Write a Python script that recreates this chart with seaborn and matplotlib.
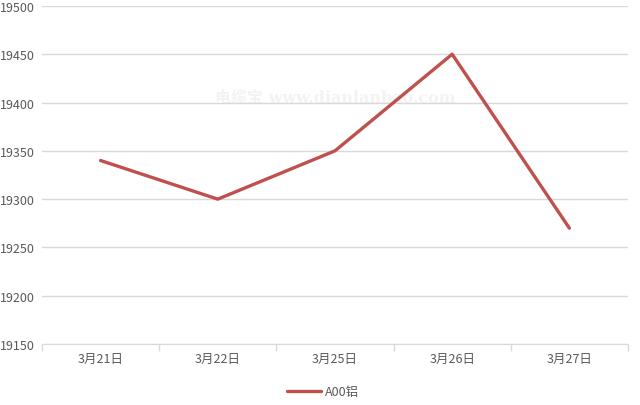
import pandas as pd
import seaborn as sns
import matplotlib.pyplot as plt
from matplotlib.ticker import FixedLocator

dates = ['3月21日', '3月22日', '3月25日', '3月26日', '3月27日']
prices = [19340, 19300, 19350, 19450, 19270]
series_name = 'A00铝'

df = pd.DataFrame({'date': dates, 'price': prices, 'series': series_name})

sns.set_style('white')
plt.rcParams['font.family'] = ['Noto Sans CJK SC', 'DejaVu Sans']

fig = plt.figure(figsize=(6.4, 4.06), dpi=100)
ax = fig.add_axes([0.0656, 0.150, 0.9156, 0.833])

x = list(range(len(dates)))
sns.lineplot(x=x, y=df['price'], color='#C0504D', linewidth=2.4, ax=ax,
             label=series_name, legend=False)

ax.set_xlim(-0.5, len(dates) - 0.5)
ax.set_ylim(19150, 19500)
ax.set_yticks(range(19150, 19501, 50))
ax.set_xticks(x)
ax.set_xticklabels(dates)
ax.xaxis.set_minor_locator(FixedLocator([i - 0.5 for i in range(len(dates) + 1)]))
ax.tick_params(axis='x', which='major', bottom=False, length=0, pad=6, labelsize=9, colors='#595959')
ax.tick_params(axis='x', which='minor', bottom=True, length=5, color='#d9d9d9', width=1)
ax.tick_params(axis='y', length=0, pad=5, labelsize=9, colors='#595959')
ax.grid(axis='y', color='#d9d9d9', linewidth=1)
ax.set_axisbelow(True)
for s in ['top', 'right', 'left']:
    ax.spines[s].set_visible(False)
ax.spines['bottom'].set_color('#d9d9d9')
ax.set_xlabel('')
ax.set_ylabel('')

# watermark
ax.text(0.5, 0.73, '电缆宝 www.dianlanbao.com', transform=ax.transAxes,
        ha='center', va='center', fontsize=11.5, color='#f3f3f3', fontweight='bold',
        family=['DejaVu Serif', 'Noto Sans CJK SC'], zorder=0)

handle = plt.Line2D([], [], color='#C0504D', linewidth=2.4)
fig.legend([handle], [series_name], loc='center', bbox_to_anchor=(0.505, 0.033),
           frameon=False, fontsize=9, handlelength=2.7, handletextpad=0.3,
           labelcolor='#595959')

plt.savefig('out.png', dpi=100)
